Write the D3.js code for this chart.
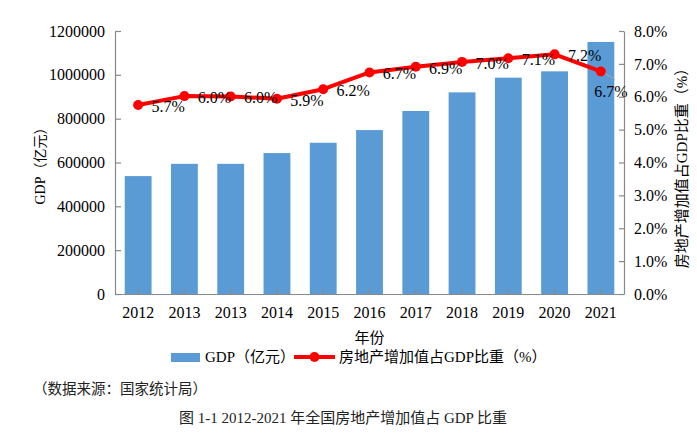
<!DOCTYPE html>
<html><head><meta charset="utf-8">
<script src="https://cdn.jsdelivr.net/npm/d3@7"></script>
<style>
html,body{margin:0;padding:0;background:#fff;}
svg{display:block;}
</style>
</head><body>
<svg id="c" width="697" height="440"></svg>
<script>
const categories = ["2012","2013","2013","2014","2015","2016","2017","2018","2019","2020","2021"];
const gdpValues = [538000, 594000, 594000, 643000, 690000, 748000, 835000, 920000, 987000, 1016000, 1150000];
const shareValues = [5.75, 6.02, 6.01, 5.94, 6.23, 6.74, 6.91, 7.06, 7.17, 7.29, 6.77];
const leftTicks = [0, 200000, 400000, 600000, 800000, 1000000, 1200000];
const rightTicks = [0, 1, 2, 3, 4, 5, 6, 7, 8];
const seriesNames = ["GDP（亿元）", "房地产增加值占GDP比重（%）"];
const xTitle = "年份";
const yLeftTitle = "GDP（亿元）";
const yRightTitle = "房地产增加值占GDP比重（%）";
const sourceText = "（数据来源：国家统计局）";
const captionText = "图 1-1 2012-2021 年全国房地产增加值占 GDP 比重";

const svg = d3.select("#c");
const L = 115, R = 624, T = 31, B = 294;
const serif = "'Liberation Serif','Times New Roman','Noto Sans CJK SC',serif";
const axisColor = "#898989";
const barColor = "#5b9bd5";
const lineColor = "#ff0000";

const idx = categories.map((d, i) => i);
const x = d3.scaleBand().domain(idx).range([L, R]).paddingInner(0.42).paddingOuter(0.21);
const yL = d3.scaleLinear().domain([0, 1200000]).range([B, T]);
const yR = d3.scaleLinear().domain([0, 8]).range([B, T]);

// bars
svg.append("g").selectAll("rect").data(gdpValues).join("rect")
  .attr("x", (d, i) => x(i)).attr("width", x.bandwidth())
  .attr("y", d => yL(d)).attr("height", d => yL(0) - yL(d))
  .attr("fill", barColor);

function styleAxis(g) {
  g.selectAll("path,line").attr("stroke", axisColor).attr("stroke-width", 1.2);
  g.selectAll("text").attr("fill", "#000").style("font-family", serif).style("font-size", "16px");
}

// left axis
svg.append("g").attr("transform", `translate(${L},0)`)
  .call(d3.axisLeft(yL).tickValues(leftTicks).tickFormat(d3.format("d")).tickSize(-6).tickSizeOuter(0).tickPadding(10))
  .call(styleAxis);

// right axis
svg.append("g").attr("transform", `translate(${R},0)`)
  .call(d3.axisRight(yR).tickValues(rightTicks).tickFormat(d => d.toFixed(1) + "%").tickSize(-5).tickSizeOuter(0).tickPadding(10))
  .call(styleAxis);

// bottom axis
svg.append("g").attr("transform", `translate(0,${B})`)
  .call(d3.axisBottom(x).tickFormat(i => categories[i]).tickSize(-5).tickSizeOuter(0).tickPadding(13))
  .call(styleAxis);

// line
const cx = i => x(i) + x.bandwidth() / 2;
const line = d3.line().x((d, i) => cx(i)).y(d => yR(d));
svg.append("path").datum(shareValues).attr("d", line)
  .attr("fill", "none").attr("stroke", lineColor).attr("stroke-width", 4).attr("stroke-linejoin", "round");
svg.append("g").selectAll("circle").data(shareValues).join("circle")
  .attr("cx", (d, i) => cx(i)).attr("cy", d => yR(d)).attr("r", 5).attr("fill", lineColor);

// data labels
const fmtLabel = v => (Math.floor(v * 10 + 1e-9) / 10).toFixed(1) + "%";
const last = shareValues.length - 1;
svg.append("line")
  .attr("x1", cx(last) + 4).attr("y1", yR(shareValues[last]) + 2)
  .attr("x2", cx(last) + 14).attr("y2", yR(shareValues[last]) + 8)
  .attr("stroke", "#a6a6a6").attr("stroke-width", 1);
svg.append("g").selectAll("text").data(shareValues).join("text")
  .attr("x", (d, i) => i === last ? cx(i) + 10 : cx(i) + 30)
  .attr("y", (d, i) => i === last ? yR(d) + 20 : yR(d) + 1.5)
  .attr("text-anchor", "middle").attr("dominant-baseline", "central")
  .style("font-family", serif).style("font-size", "16px").attr("fill", "#000")
  .text(d => fmtLabel(d));

// axis titles
svg.append("text").attr("transform", `translate(40,${(T + B) / 2}) rotate(-90)`)
  .attr("text-anchor", "middle").attr("dominant-baseline", "central")
  .style("font-family", serif).style("font-size", "14px").text(yLeftTitle);
svg.append("text").attr("transform", `translate(682,${(T + B) / 2 + 2}) rotate(-90)`)
  .attr("text-anchor", "middle").attr("dominant-baseline", "central")
  .style("font-family", serif).style("font-size", "15px").text(yRightTitle);
svg.append("text").attr("x", 369.5).attr("y", 338)
  .attr("text-anchor", "middle").attr("dominant-baseline", "central")
  .style("font-family", serif).style("font-size", "15px").text(xTitle);

// legend
const lg = svg.append("g");
lg.append("rect").attr("x", 171).attr("y", 353).attr("width", 29).attr("height", 9).attr("fill", barColor);
lg.append("text").attr("x", 205).attr("y", 357).attr("dominant-baseline", "central")
  .style("font-family", serif).style("font-size", "15px").text(seriesNames[0]);
lg.append("line").attr("x1", 294).attr("x2", 335).attr("y1", 357).attr("y2", 357)
  .attr("stroke", lineColor).attr("stroke-width", 4);
lg.append("circle").attr("cx", 314.5).attr("cy", 357).attr("r", 5).attr("fill", lineColor);
lg.append("text").attr("x", 339).attr("y", 357).attr("dominant-baseline", "central")
  .style("font-family", serif).style("font-size", "15px").text(seriesNames[1]);

// source and caption
svg.append("text").attr("x", 33).attr("y", 387).attr("dominant-baseline", "central")
  .style("font-family", "'Noto Sans CJK SC',sans-serif").style("font-size", "14.5px").attr("fill", "#222").text(sourceText);
svg.append("text").attr("x", 343).attr("y", 418).attr("text-anchor", "middle").attr("dominant-baseline", "central")
  .style("font-family", serif).style("font-size", "15px").attr("fill", "#222").text(captionText);
</script>
</body></html>
